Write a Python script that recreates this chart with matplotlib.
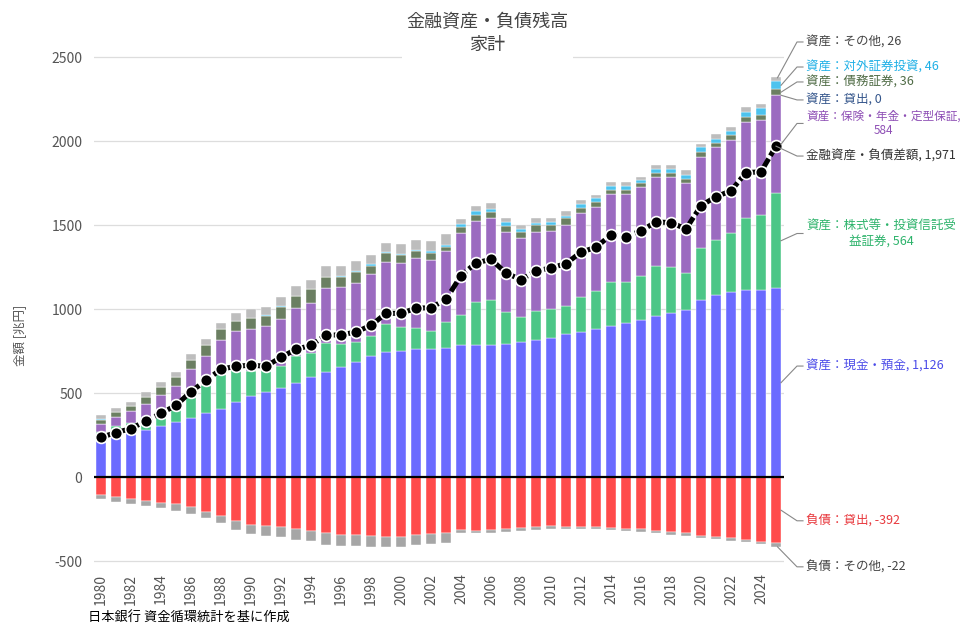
import matplotlib
matplotlib.use("Agg")
import matplotlib.pyplot as plt
import numpy as np

plt.rcParams['font.family'] = ['Noto Sans CJK JP', 'DejaVu Sans']

years = list(range(1980, 2026))

cash = [232, 250, 266, 281, 305, 331, 351, 380, 406, 446, 484, 510, 530, 560,
        599, 628, 659, 688, 722, 744, 752, 762, 762, 772, 788, 788, 788, 794, 807, 817,
        831, 851, 867, 883, 902, 918, 938, 960, 976, 998, 1055, 1085, 1104, 1114, 1114, 1126]
stocks = [35, 54, 58, 56, 70, 80, 140, 170, 210, 200, 150, 130, 135, 160,
          139, 169, 135, 119, 119, 169, 145, 125, 111, 155, 179, 258, 268, 187, 145, 175,
          171, 171, 208, 226, 262, 246, 260, 300, 274, 216, 308, 327, 352, 431, 447, 564]
insurance = [52, 56, 69, 100, 114, 134, 152, 173, 202, 222, 249, 259, 280, 288,
             298, 327, 337, 351, 369, 371, 377, 417, 421, 417, 486, 482, 486, 478, 470, 470,
             466, 480, 500, 502, 522, 522, 528, 526, 536, 536, 545, 552, 551, 568, 566, 584]
loans_a = [0] * 46
bonds = [24, 26, 30, 40, 46, 50, 55, 62, 62, 60, 65, 62, 70, 70,
         83, 69, 63, 65, 48, 50, 48, 40, 40, 26, 34, 34, 36, 38, 38, 38,
         34, 40, 26, 30, 24, 24, 24, 24, 24, 28, 30, 24, 30, 30, 30, 36]
foreign = [1, 1, 1, 1, 1, 1, 2, 2, 2, 2, 2, 2, 2, 2,
           2, 2, 2, 3, 10, 4, 8, 10, 10, 10, 20, 20, 18, 20, 16, 16,
           16, 14, 26, 20, 24, 24, 20, 26, 26, 22, 26, 28, 26, 34, 40, 46]
other_a = [25, 24, 25, 30, 30, 32, 36, 35, 35, 45, 52, 50, 55, 57,
           56, 60, 63, 60, 56, 58, 60, 60, 60, 67, 30, 34, 36, 26, 26, 26,
           26, 26, 24, 20, 26, 22, 20, 24, 24, 26, 20, 26, 20, 24, 24, 26]
loans_l = [-105, -115, -127, -139, -151, -161, -179, -205, -230, -262, -282, -292, -298, -310,
           -322, -329, -343, -343, -349, -357, -357, -343, -337, -329, -312, -318, -312, -308, -302, -298,
           -292, -294, -294, -298, -304, -308, -310, -320, -327, -333, -349, -353, -363, -373, -383, -392]
other_l = [-26, -30, -32, -32, -34, -39, -39, -40, -44, -50, -53, -60, -60, -65,
           -60, -73, -69, -69, -67, -60, -60, -60, -60, -60, -20, -16, -20, -16, -18, -16,
           -16, -12, -12, -12, -10, -12, -14, -14, -14, -16, -14, -16, -16, -14, -16, -22]
net = [238, 266, 290, 336, 381, 428, 510, 577, 643, 661, 667, 661, 714, 762,
       785, 847, 847, 865, 904, 976, 976, 1006, 1010, 1059, 1200, 1276, 1297, 1216, 1176, 1228,
       1246, 1272, 1340, 1369, 1443, 1432, 1467, 1520, 1516, 1478, 1617, 1670, 1705, 1814, 1818, 1971]

asset_series = [
    ("資産：現金・預金", cash, "#6b6bff"),
    ("資産：株式等・投資信託受益証券", stocks, "#4cc687"),
    ("資産：保険・年金・定型保証", insurance, "#9b6bc0"),
    ("資産：貸出", loans_a, "#34558b"),
    ("資産：債務証券", bonds, "#6b7f62"),
    ("資産：対外証券投資", foreign, "#4dc3ee"),
    ("資産：その他", other_a, "#bdbdbd"),
]
liab_series = [
    ("負債：貸出", loans_l, "#ff4b4b"),
    ("負債：その他", other_l, "#a6a6a6"),
]

fig = plt.figure(figsize=(9.75, 6.37), dpi=100)
W, H = 975, 637
ax = fig.add_axes([93.5 / W, (H - 568) / H, (783.5 - 93.5) / W, (568 - 45) / H])

x = np.array(years)
bw = 0.67
bottom = np.zeros(len(years))
for name, vals, col in asset_series:
    v = np.array(vals, dtype=float)
    ax.bar(x, v, bw, bottom=bottom, color=col, edgecolor='white', linewidth=0.3, zorder=2)
    bottom += v
nbottom = np.zeros(len(years))
for name, vals, col in liab_series:
    v = np.array(vals, dtype=float)
    ax.bar(x, v, bw, bottom=nbottom, color=col, edgecolor='white', linewidth=0.3, zorder=2)
    nbottom += v

ax.axhline(0, color='black', lw=1.6, zorder=3)
ax.plot(x, net, color='black', lw=3.6, ls=(0, (2.2, 0.7)), marker='o', ms=8.5,
        mfc='black', mec='white', mew=1.2, zorder=5)

ax.set_xlim(1979.5, 2025.5)
ax.set_ylim(-540, 2573)
ax.set_yticks([-500, 0, 500, 1000, 1500, 2000, 2500])
ax.set_yticklabels(['-500', '0', '500', '1000', '1500', '2000', '2500'])
ax.set_xticks(list(range(1980, 2025, 2)))
ax.set_xticklabels([str(y) for y in range(1980, 2025, 2)], rotation=90)
ax.tick_params(axis='both', length=0, labelsize=10, colors='#555555')
ax.tick_params(axis='y', pad=8)
ax.tick_params(axis='x', pad=4)
for s in ax.spines.values():
    s.set_visible(False)
ax.grid(axis='y', color='#dddddd', lw=0.9, zorder=0)
ax.set_axisbelow(True)

# leader-line labels
last = len(years) - 1
xr = years[-1] + bw / 2
xe = years[-1] + 1.4
xt = years[-1] + 2.0

def seg_mid(series_idx):
    b = sum(asset_series[i][1][last] for i in range(series_idx))
    return b + asset_series[series_idx][1][last] / 2

def leader(y0, ylab, text, color, xstart=xr, fs=9):
    ax.plot([xstart, xe, xe + 0.4], [y0, ylab, ylab], color='#888888', lw=0.8,
            clip_on=False, zorder=6)
    ax.text(xt, ylab, text, color=color, fontsize=fs, va='center', ha='left',
            multialignment='center', clip_on=False)

tot = sum(s[1][last] for s in asset_series)
leader(tot - 4, 2591, f"資産：その他, {other_a[last]}", '#444444', xstart=years[-1] + 0.1)
leader(seg_mid(5), 2442, f"資産：対外証券投資, {foreign[last]}", '#1fb0e6')
leader(seg_mid(4), 2353, f"資産：債務証券, {bonds[last]}", '#4f6b45')
leader(seg_mid(3), 2246, f"資産：貸出, {loans_a[last]}", '#34558b')
leader(seg_mid(2), 2106, f"資産：保険・年金・定型保証,\n{insurance[last]}", '#8e4fb5', fs=8.4)
leader(net[last], 1912, f"金融資産・負債差額, {net[last]:,}", '#333333', xstart=years[-1])
leader(seg_mid(1), 1451, f"資産：株式等・投資信託受\n益証券, {stocks[last]}", '#2db36b')
leader(seg_mid(0), 662, f"資産：現金・預金, {cash[last]:,}", '#4a4ae8')
leader(loans_l[last] / 2, -259, f"負債：貸出, {loans_l[last]}", '#e8383d')
leader(loans_l[last] + other_l[last], -533, f"負債：その他, {other_l[last]}", '#444444',
       xstart=years[-1] + 0.1)

fig.text(0.5, 1 - 34 / H, "金融資産・負債残高\n家計", ha='center', va='center',
         fontsize=13, color='#444444', linespacing=1.35,
         bbox=dict(facecolor='white', edgecolor='none', pad=3), zorder=10)
fig.text(20 / W, 1 - 335 / H, "金額 [兆円]", rotation=90, ha='center', va='center',
         fontsize=9, color='#555555')
fig.text(88 / W, 1 - 617 / H, "日本銀行 資金循環統計を基に作成", ha='left', va='center',
         fontsize=9.5, color='black')

fig.savefig("out.png", dpi=100)
